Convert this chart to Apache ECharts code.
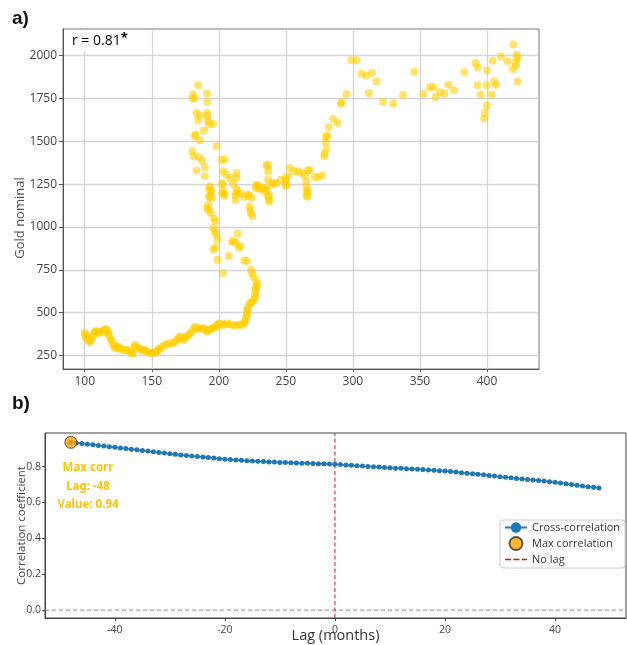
<!DOCTYPE html>
<html>
<head>
<meta charset="utf-8">
<script src="https://cdn.jsdelivr.net/npm/echarts@6/dist/echarts.min.js"></script>
<style>
html,body{margin:0;padding:0;background:#fff;}
#chart{width:627px;height:645px;}
</style>
</head>
<body>
<div id="chart"></div>
<script>
// ---------- Panel a: Gold nominal vs CPI (scatter) ----------
const scatterLow = [[100,383],[100.5,372],[100.7,360],[101.5,350],[102.5,340],[103,335],[104,327],[105,345],[106,360],[107,380],[107.5,388],[108.5,392],[110,379],[111,385],[112.5,388],[113.5,392],[115,398],[116,404],[116.5,395],[117.5,379],[118,370],[119,350],[120,335],[121,321],[122,305],[122.5,292],[124,298],[125,302],[126,290],[127.5,283],[129,285],[131,283],[132.5,278],[134,273],[135,262],[136,263],[137,300],[137.5,311],[138.5,300],[140,292],[141.5,286],[143,280],[144,283],[145,278],[146,273],[147.5,268],[148.5,265],[150,263],[151.5,265],[153,270],[154,273],[155,282],[156,292],[158,300],[160,311],[162,316],[164,321],[166,321],[167.5,330],[169,340],[170,352],[171,360],[172.5,350],[174,340],[175,350],[176,360],[177.5,370],[179,379],[180.5,395],[182,417],[183,412],[184.5,405],[186,408],[187.5,405],[189,408],[190,398],[191,388],[192.5,395],[194,402],[195,408],[196.5,412],[197.5,417],[199,428],[200,437],[201,432],[202.5,427],[204,430],[206,437],[208,432],[210,427],[212,425],[214,427],[216,430],[218,427],[219,440],[220,456],[220.5,470],[221,485],[221,500],[221,513],[222,530],[222.5,552],[224,557],[225,562],[226,575],[227.5,590],[227,610],[227.5,629],[228,640],[227.5,648],[229,667],[228,680],[226,706],[225,728],[224,750]];
const scatterMid = [[221,802],[219,802],[215,879],[212.5,908],[214,961],[211,917],[210,913],[216,888],[207.5,831],[203,729],[199,808],[197.5,879],[196,869],[199,927],[198,956],[197,975],[196,994],[197.5,1033],[196.5,1050],[194,1081],[192.5,1100],[191.5,1110],[195,1167],[193,1177],[194,1200],[193,1225],[202.5,1196],[204,1183],[202.5,1250],[212.5,1187],[212.5,1158],[214,1206],[219,1177],[222.5,1183],[223,1119],[224,1081],[225,1062],[223.5,1100],[227.5,1229],[230,1221],[234,1210],[237.5,1187],[237.5,1160],[237.5,1148],[241,1250],[250,1240],[266,1210],[266,1177]];
const scatterArm = [[184.6,1827],[180.8,1773],[182,1750],[180.4,1750],[191.3,1779],[191.3,1730],[183.3,1666],[185.8,1652],[191.3,1666],[191.3,1647],[184.6,1621],[192,1617],[192.8,1598],[195.8,1602],[188.8,1562],[182.8,1539],[182,1533],[185.8,1506],[198.3,1471],[180.4,1442],[181.3,1413],[185.3,1407],[187.8,1387],[189.6,1348],[183.3,1329],[189.6,1296],[202,1393],[204.5,1393],[203.2,1325],[205.7,1305],[208.2,1286],[213.2,1315],[213.2,1286],[202.8,1253],[210.7,1253],[193.3,1237],[194.5,1208],[193.3,1179],[203.2,1208],[204.5,1193],[213.2,1222],[213.2,1193],[216.9,1193],[221.9,1189],[224.4,1170],[228.1,1247],[230.6,1237],[235.6,1228],[235.6,1360],[192,1130]];
const scatterRise = [[299,1973],[302.8,1973],[306.5,1895],[295.3,1777],[291.6,1730],[291,1718],[285.3,1631],[288.6,1607],[282,1582],[279.9,1529],[281.1,1529],[279.9,1494],[280.3,1456],[279,1428],[278.6,1413],[236.8,1360],[236.8,1325],[236.8,1276],[239.3,1257],[243,1257],[246.3,1276],[249.8,1286],[251.7,1296],[253,1345],[256.2,1325],[259.2,1325],[261.7,1315],[266.6,1331],[267.9,1331],[264.2,1300],[265.4,1266],[265.4,1234],[266.2,1208],[265.4,1185],[271.6,1292],[274.1,1292],[277.1,1300],[228.9,1241],[231.8,1228],[235.6,1218],[236.8,1179],[250.5,1247],[249.8,1266]];
const scatterHigh = [[310.2,1884],[314.4,1899],[317.7,1850],[312,1783],[322.6,1730],[330.1,1720],[337.5,1771],[345.8,1907],[352.5,1777],[357.5,1816],[360,1818],[361.7,1759],[365,1786],[368.2,1779],[371.2,1831],[375.4,1798],[383.1,1903],[391.6,1958],[393.1,1932],[400,1913],[393.1,1827],[395.3,1773],[399.8,1827],[403.5,1773],[405.4,1850],[406.7,1831],[404.3,1971],[410.4,1996],[415.4,1967],[419.6,2065],[422.1,2006],[422.9,1987],[421.6,1964],[421.6,1942],[419.2,1923],[422.9,1850],[400,1710],[398.5,1666],[397.8,1633]];
const scatterXTicks = [100,150,200,250,300,350,400];
const scatterYTicks = [250,500,750,1000,1250,1500,1750,2000];
const correlationText = 'r = 0.81';
const scatterYTitle = 'Gold nominal';

// ---------- Panel b: cross-correlation ----------
const lags = [];
for (let k = -48; k <= 48; k++) lags.push(k);
const crossCorr = [0.935,0.931,0.928,0.925,0.922,0.918,0.915,0.911,0.907,0.904,0.900,0.897,0.893,0.889,0.886,0.882,0.878,0.875,0.871,0.868,0.865,0.862,0.859,0.856,0.853,0.850,0.847,0.844,0.841,0.839,0.837,0.835,0.833,0.831,0.829,0.828,0.826,0.825,0.823,0.822,0.821,0.820,0.819,0.818,0.817,0.816,0.815,0.814,0.813,0.811,0.809,0.807,0.805,0.803,0.801,0.799,0.797,0.795,0.793,0.791,0.790,0.788,0.786,0.785,0.783,0.781,0.779,0.777,0.775,0.772,0.769,0.766,0.763,0.760,0.757,0.754,0.750,0.747,0.743,0.740,0.737,0.734,0.731,0.728,0.725,0.722,0.719,0.716,0.712,0.708,0.704,0.700,0.696,0.692,0.688,0.684,0.680];
const maxLag = -48;
const maxValue = 0.935;
const maxLabel = ['Max corr', 'Lag: -48', 'Value: 0.94'];
const lagTicks = [-40,-20,0,20,40];
const corrTicks = [0.0,0.2,0.4,0.6,0.8];
const lagRange = [-52.7, 52.9];
const corrRange = [-0.044, 0.987];

const chart = echarts.init(document.getElementById('chart'), null, {renderer:'canvas'});

const gold = 'rgba(255,206,0,0.72)';
const allScatter = scatterLow.concat(scatterMid, scatterArm, scatterRise, scatterHigh);
const dashIcon = 'path://M0,0h7v1.6h-7zM9.5,0h7v1.6h-7zM19,0h6v1.6h-6z';

const option = {
  animation: false,
  backgroundColor: '#fff',
  textStyle: {fontFamily: 'Open Sans'},
  grid: [
    {left: 63, top: 29, width: 476, height: 340, show: true, borderColor: '#777', borderWidth: 1, containLabel: false, outerBoundsMode: 'none'},
    {left: 45, top: 433, width: 581, height: 185, show: true, borderColor: '#444', borderWidth: 1, containLabel: false, outerBoundsMode: 'none'}
  ],
  xAxis: [
    {
      type: 'value', gridIndex: 0, min: 83.8, max: 438.8,
      axisLine: {show: true, onZero: false, lineStyle: {color: '#555', width: 1}},
      axisTick: {show: true, length: 3, lineStyle: {color: '#555'}, customValues: scatterXTicks},
      axisLabel: {color: '#444', fontSize: 12, margin: 7, fontFamily: 'Open Sans', customValues: scatterXTicks},
      splitLine: {show: true, lineStyle: {color: '#d4d4d4', width: 1.3}}
    },
    {
      type: 'value', gridIndex: 1, min: lagRange[0], max: lagRange[1],
      name: 'Lag (months)', nameLocation: 'middle', nameGap: 10, nameMoveOverlap: false,
      nameTextStyle: {color: '#333', fontSize: 14.5, fontFamily: 'Open Sans'},
      axisLine: {show: true, onZero: false, lineStyle: {color: '#444'}},
      axisTick: {show: true, length: 3, lineStyle: {color: '#444'}, customValues: lagTicks},
      axisLabel: {color: '#444', fontSize: 10.5, margin: 7, fontFamily: 'Open Sans', customValues: lagTicks},
      splitLine: {show: false}
    }
  ],
  yAxis: [
    {
      type: 'value', gridIndex: 0, min: 170.6, max: 2156,
      axisLine: {show: true, onZero: false, lineStyle: {color: '#555'}},
      axisTick: {show: true, length: 4, lineStyle: {color: '#555'}, customValues: scatterYTicks},
      axisLabel: {color: '#444', fontSize: 12, margin: 6, fontFamily: 'Open Sans', customValues: scatterYTicks,
        formatter: v => String(v)},
      splitLine: {show: true, lineStyle: {color: '#d4d4d4', width: 1.3}}
    },
    {
      type: 'value', gridIndex: 1, min: corrRange[0], max: corrRange[1],
      name: 'Correlation coefficient', nameLocation: 'middle', nameGap: 17, nameRotate: 90, nameMoveOverlap: false,
      nameTextStyle: {color: '#444', fontSize: 11.5, fontFamily: 'Open Sans'},
      axisLine: {show: true, onZero: false, lineStyle: {color: '#444'}},
      axisTick: {show: true, length: 3, lineStyle: {color: '#444'}, customValues: corrTicks},
      axisLabel: {color: '#444', fontSize: 10.5, margin: 4, fontFamily: 'Open Sans', customValues: corrTicks,
        formatter: v => v.toFixed(1)},
      splitLine: {show: false}
    }
  ],
  legend: {
    show: true,
    left: 500, top: 520,
    orient: 'vertical',
    itemGap: 3,
    itemWidth: 22, itemHeight: 13,
    padding: [2, 5, 3, 4],
    borderColor: '#ccc', borderWidth: 1, borderRadius: 3,
    backgroundColor: 'rgba(255,255,255,0.85)',
    textStyle: {color: '#333', fontSize: 11, fontFamily: 'Open Sans'},
    data: [
      {name: 'Cross-correlation'},
      {name: 'Max correlation', icon: 'circle'},
      {name: 'No lag', icon: dashIcon}
    ]
  },
  series: [
    {
      name: 'Gold vs CPI', type: 'scatter', xAxisIndex: 0, yAxisIndex: 0,
      data: allScatter, symbolSize: 8,
      itemStyle: {color: gold}
    },
    {
      name: 'zero', type: 'line', xAxisIndex: 1, yAxisIndex: 1,
      data: [[lagRange[0], 0], [lagRange[1], 0]], symbol: 'none', silent: true,
      lineStyle: {color: '#888', type: [4, 3], width: 1}, z: 1
    },
    {
      name: 'No lag', type: 'line', xAxisIndex: 1, yAxisIndex: 1,
      data: [[0, corrRange[0]], [0, corrRange[1]]], symbol: 'none', silent: true,
      lineStyle: {color: '#e0101a', type: [4, 2.5], width: 1},
      itemStyle: {color: '#e0101a'},
      z: 2
    },
    {
      name: 'Cross-correlation', type: 'line', xAxisIndex: 1, yAxisIndex: 1,
      data: lags.map((l, i) => [l, crossCorr[i]]),
      symbol: 'circle', symbolSize: 5, showSymbol: true,
      lineStyle: {color: '#1f77b4', width: 1.5},
      itemStyle: {color: '#1f77b4'},
      z: 3
    },
    {
      name: 'Max correlation', type: 'scatter', xAxisIndex: 1, yAxisIndex: 1,
      data: [[maxLag, maxValue]], symbolSize: 12,
      itemStyle: {color: '#FFA500', borderColor: '#333', borderWidth: 1},
      z: 5
    }
  ],
  graphic: [
    {type: 'text', left: 12, top: 9, style: {text: 'a)', font: 'bold 19px "Liberation Sans"', fill: '#111'}},
    {type: 'text', left: 12, top: 394, style: {text: 'b)', font: 'bold 19px "Liberation Sans"', fill: '#111'}},
    {type: 'text', x: 20, y: 218, rotation: Math.PI / 2, style: {text: scatterYTitle, font: '13px "Open Sans"', fill: '#555', align: 'center', verticalAlign: 'middle'}},
    {type: 'text', left: 69, top: 31, z: 10, style: {
      text: '{a|' + correlationText + '}{b|*}',
      backgroundColor: '#fff', padding: [1, 3, 1, 3],
      rich: {
        a: {fontSize: 14, fontFamily: 'Open Sans', color: '#222'},
        b: {fontSize: 13, fontWeight: 'bold', fontFamily: 'Open Sans', color: '#222', verticalAlign: 'top', padding: [0,0,6,0]}
      }
    }},
    {type: 'text', x: 88, y: 468, style: {text: maxLabel[0], font: 'bold 11.5px "Noto Sans"', fill: '#FFC20E', align: 'center', verticalAlign: 'middle'}},
    {type: 'text', x: 88, y: 487, style: {text: maxLabel[1], font: 'bold 11.5px "Noto Sans"', fill: '#FFC20E', align: 'center', verticalAlign: 'middle'}},
    {type: 'text', x: 88, y: 505, style: {text: maxLabel[2], font: 'bold 11.5px "Noto Sans"', fill: '#FFC20E', align: 'center', verticalAlign: 'middle'}}
  ]
};
chart.setOption(option);
</script>
</body>
</html>
